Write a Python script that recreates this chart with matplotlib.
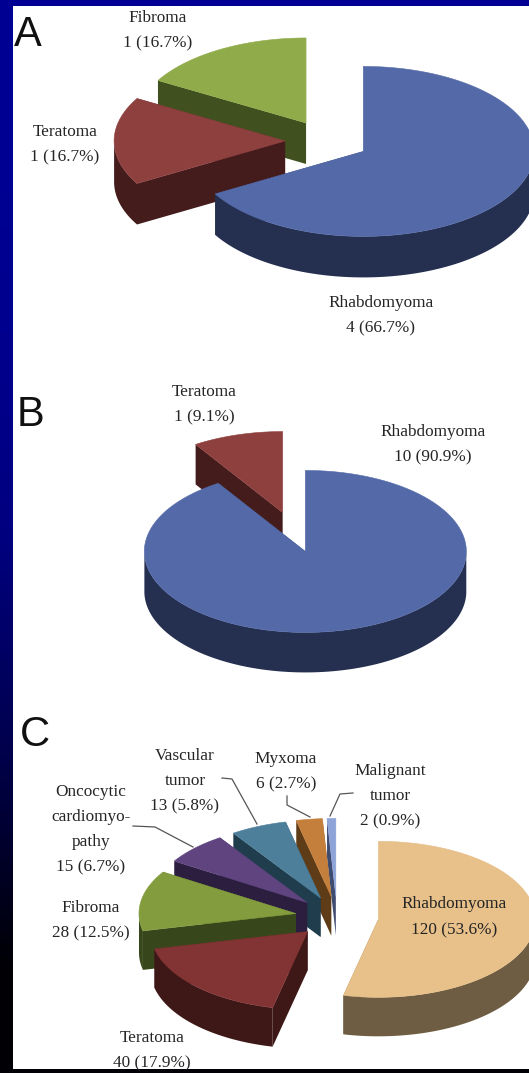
import numpy as np
import matplotlib
matplotlib.use("Agg")
import matplotlib.pyplot as plt
from matplotlib.patches import Polygon, Rectangle

# series
a_names = ["Rhabdomyoma", "Teratoma", "Fibroma"]
a_counts = [4, 1, 1]
a_pct = [66.7, 16.7, 16.7]
b_names = ["Rhabdomyoma", "Teratoma"]
b_counts = [10, 1]
b_pct = [90.9, 9.1]
c_names = ["Rhabdomyoma", "Teratoma", "Fibroma", "Oncocytic\ncardiomyo-\npathy",
           "Vascular\ntumor", "Myxoma", "Malignant\ntumor"]
c_counts = [120, 40, 28, 15, 13, 6, 2]
c_pct = [53.6, 17.9, 12.5, 6.7, 5.8, 2.7, 0.9]

# top colour, side colour
a_cols = [("#5469A8", "#253050"), ("#8E403F", "#431C1B"), ("#90AC4A", "#41501F")]
b_cols = [("#5469A8", "#253050"), ("#8E403F", "#431C1B")]
c_cols = [("#E7C08A", "#6E5D42"), ("#813433", "#3E1817"), ("#829C3E", "#38471B"),
          ("#5F4480", "#2B1E3E"), ("#4D7F9A", "#1F3D4C"), ("#C57F3C", "#5E3C18"),
          ("#8EA3D8", "#3F4C70")]


def pie3d(ax, counts, cols, cx, cy, rx, ry, depth, explode):
    fr = np.array(counts, dtype=float) / sum(counts)
    stops = np.concatenate([[0], np.cumsum(fr)]) * 2 * np.pi
    # later slices sit behind, so go backwards
    for i in range(len(counts) - 1, -1, -1):
        t0, t1 = stops[i], stops[i + 1]
        mid = (t0 + t1) / 2
        ax0 = cx + explode * rx * np.sin(mid)
        ay0 = cy - explode * ry * np.cos(mid)
        t = np.linspace(t0, t1, 180)
        arc = np.column_stack([ax0 + rx * np.sin(t), ay0 - ry * np.cos(t)])
        drop = np.array([0, depth])
        apex = np.array([ax0, ay0])
        # dark sides: the two cut faces, then the front facing part of the rim
        sides = [np.array([apex, arc[0], arc[0] + drop, apex + drop]),
                 np.array([apex, arc[-1], arc[-1] + drop, apex + drop])]
        front = arc[np.cos(t) < 0]
        if len(front) > 1:
            sides.append(np.vstack([front, (front + drop)[::-1]]))
        for s in sides:
            ax.add_patch(Polygon(s, closed=True, fc=cols[i][1], ec="none", zorder=3))
        ax.add_patch(Polygon(np.vstack([apex, arc]), closed=True, fc=cols[i][0], ec=cols[i][0],
                             lw=0.4, zorder=3))


def label(ax, x, y, name, count, pct, gap=25):
    lines = name.split("\n") + [f"{count} ({pct}%)"]
    for i, s in enumerate(lines):
        ax.text(x, y + 1 + i * gap, s, ha="center", va="center", family="Liberation Serif",
                fontsize=12.4, color="#252525", zorder=5)


fig = plt.figure(figsize=(5.29, 10.73), dpi=100)
ax = fig.add_axes([0, 0, 1, 1])
ax.set_xlim(0, 529)
ax.set_ylim(1073, 0)
ax.axis("off")

# slide background, blue fading to black at the bottom
grad = np.array([[0, 0, 0.58], [0, 0, 0.56], [0, 0, 0.50], [0, 0, 0.30], [0, 0, 0.02]])[:, None, :]
ax.imshow(grad, extent=[0, 529, 1073, 0], aspect="auto", interpolation="bilinear", zorder=0)
ax.set_xlim(0, 529)
ax.set_ylim(1073, 0)
ax.add_patch(Rectangle((13, 6), 516, 1063, fc="white", ec="none", zorder=1))

pie3d(ax, a_counts, a_cols, 327, 141, 171, 85, 41, 0.245)
pie3d(ax, b_counts, b_cols, 294, 532, 161, 81, 40, 0.25)
pie3d(ax, c_counts, c_cols, 337, 917, 157, 78, 39, 0.265)

label(ax, 381, 302, a_names[0], a_counts[0], a_pct[0])
label(ax, 65, 131, a_names[1], a_counts[1], a_pct[1])
label(ax, 158, 17, a_names[2], a_counts[2], a_pct[2])
label(ax, 433, 431, b_names[0], b_counts[0], b_pct[0])
label(ax, 204, 391, b_names[1], b_counts[1], b_pct[1])
label(ax, 454, 903, c_names[0], c_counts[0], c_pct[0], gap=26)
label(ax, 152, 1037, c_names[1], c_counts[1], c_pct[1])
label(ax, 91, 907, c_names[2], c_counts[2], c_pct[2])
label(ax, 91, 791, c_names[3], c_counts[3], c_pct[3])
label(ax, 185, 755, c_names[4], c_counts[4], c_pct[4])
label(ax, 286, 758, c_names[5], c_counts[5], c_pct[5])
label(ax, 390, 770, c_names[6], c_counts[6], c_pct[6])

# leader lines
for lx, ly in [([222, 232, 257], [778, 779, 824]),
               ([133, 155, 193], [826, 827, 847]),
               ([287, 287, 310], [796, 805, 817]),
               ([353, 340, 330], [793, 794, 816])]:
    ax.plot(lx, ly, color="#555555", lw=0.9, zorder=4)

for s, x, y in [("A", 28, 35), ("B", 31, 415), ("C", 35, 735)]:
    ax.text(x, y, s, ha="center", va="center", family="Liberation Sans", fontsize=30,
            color="#111111", zorder=5)

fig.savefig("out.png", dpi=100)
